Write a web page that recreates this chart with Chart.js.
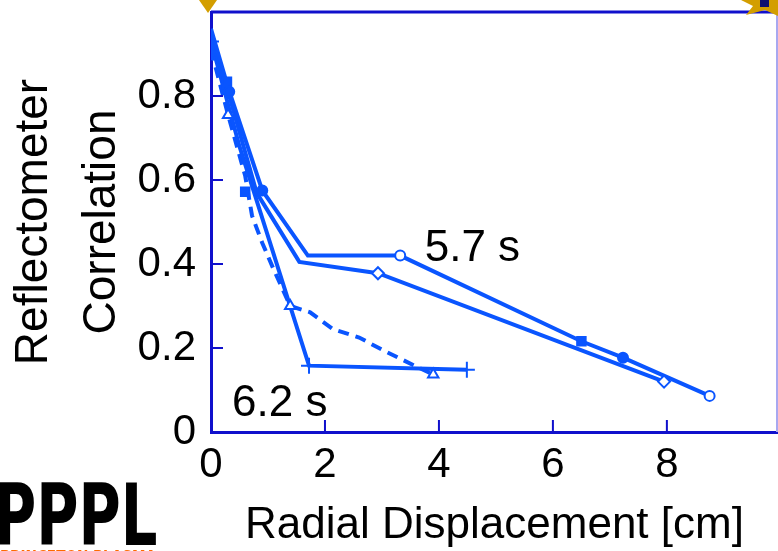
<!DOCTYPE html>
<html>
<head>
<meta charset="utf-8">
<script src="https://cdn.jsdelivr.net/npm/chart.js@4.4.1/dist/chart.umd.min.js"></script>
<style>
    html, body { margin: 0; padding: 0; background: #fff; }
    #wrap { width: 778px; height: 551px; }
</style>
</head>
<body>
<div id="wrap"><canvas id="corrChart" width="778" height="551"></canvas></div>
<script>
// ---- data ----
// 5.7 s curves
const upperX = [0, 0.3, 0.9, 1.7, 3.32, 6.5, 7.23, 8.75];
const upperY = [0.96, 0.82, 0.575, 0.42, 0.42, 0.216, 0.177, 0.086];
const lowerX = [0, 0.3, 0.8, 1.55, 2.93, 7.95];
const lowerY = [0.94, 0.81, 0.57, 0.405, 0.378, 0.12];
// 6.2 s curves
const plusX = [0, 0.5, 1.72, 4.49];
const plusY = [0.93, 0.68, 0.158, 0.148];
const dashX = [0, 0.3, 0.6, 0.72, 0.9, 1.09, 1.39, 1.74, 2.14, 2.6, 3.0, 3.6, 3.9];
const dashY = [0.91, 0.755, 0.61, 0.515, 0.45, 0.39, 0.30, 0.285, 0.245, 0.225, 0.196, 0.156, 0.137];

// marker points
const openCircX = [3.32, 8.75];
const openCircY = [0.42, 0.086];
const dotX = [0.32, 0.9, 7.23];
const dotY = [0.81, 0.575, 0.177];
const squareX = [0.28, 0.6, 6.5];
const squareY = [0.834, 0.572, 0.216];
const diamondX = [2.93, 7.95];
const diamondY = [0.378, 0.12];
const triX = [0.3, 1.39, 3.9];
const triY = [0.755, 0.30, 0.137];
const crossX = [0, 0, 1.72, 4.49];
const crossY = [0.93, 0.905, 0.158, 0.148];

// axes
const xTicks = [0, 2, 4, 6, 8];
const yTicks = [0, 0.2, 0.4, 0.6, 0.8];
const yTickLabels = ['0', '0.2', '0.4', '0.6', '0.8'];
const timeLabels = ['5.7 s', '6.2 s'];

const BLUE = '#0a55ff';
const AXIS = '#1010cc';
const FONT = "'Liberation Sans', Arial, sans-serif";

const pts = (xs, ys) => xs.map((x, i) => ({ x: x, y: ys[i] }));

const lineSet = (xs, ys, dash) => ({
    data: pts(xs, ys),
    showLine: true,
    borderColor: BLUE,
    borderWidth: 4,
    borderDash: dash || [],
    pointRadius: 0,
    fill: false
});

const markerSet = (xs, ys, style, radius, filled) => ({
    data: pts(xs, ys),
    showLine: false,
    pointStyle: style,
    pointRadius: radius,
    pointBorderWidth: 2,
    pointBorderColor: BLUE,
    pointBackgroundColor: filled ? BLUE : '#ffffff'
});

// no extra label padding around the plot box
const noPad = s => { s.paddingTop = 0; s.paddingBottom = 0; s.paddingLeft = 0; s.paddingRight = 0; };

// inward ticks, frame and slide decorations
const framePlugin = {
    id: 'frame',
    afterDraw(chart) {
        const { ctx, chartArea: a, scales: { x, y } } = chart;
        ctx.save();
        ctx.strokeStyle = AXIS;
        ctx.lineWidth = 2;
        ctx.beginPath();
        xTicks.forEach(v => {
            if (v === 0) return;
            const px = x.getPixelForValue(v);
            ctx.moveTo(px, a.bottom);
            ctx.lineTo(px, a.bottom - 12);
        });
        yTicks.forEach(v => {
            if (v === 0) return;
            const py = y.getPixelForValue(v);
            ctx.moveTo(a.left, py);
            ctx.lineTo(a.left + 12, py);
        });
        ctx.stroke();

        // top and right frame
        ctx.lineWidth = 3;
        ctx.beginPath();
        ctx.moveTo(a.left, a.top);
        ctx.lineTo(a.right, a.top);
        ctx.stroke();
        ctx.strokeStyle = '#a8a8f0';
        ctx.lineWidth = 2;
        ctx.beginPath();
        ctx.moveTo(a.right - 1, a.top);
        ctx.lineTo(a.right - 1, a.bottom);
        ctx.stroke();

        // time labels
        ctx.fillStyle = '#000';
        ctx.font = '44px ' + FONT;
        ctx.textAlign = 'left';
        ctx.textBaseline = 'alphabetic';
        ctx.fillText(timeLabels[0], x.getPixelForValue(3.75), y.getPixelForValue(0.407));
        ctx.fillText(timeLabels[1], x.getPixelForValue(0.37), y.getPixelForValue(0.038));

        // gold star tips at the top edge
        ctx.fillStyle = '#d39e00';
        ctx.beginPath();
        ctx.moveTo(199, 0); ctx.lineTo(217, 0); ctx.lineTo(208, 13);
        ctx.closePath();
        ctx.fill();
        ctx.beginPath();
        ctx.moveTo(741, 0); ctx.lineTo(778, 0); ctx.lineTo(778, 16);
        ctx.lineTo(765, 10); ctx.lineTo(746, 15); ctx.lineTo(753, 6);
        ctx.closePath();
        ctx.fill();
        ctx.fillStyle = '#101070';
        ctx.fillRect(760, 0, 9, 7);

        // PPPL logo
        ctx.fillStyle = '#000';
        ctx.save();
        ctx.translate(-6, 545);
        ctx.scale(0.67, 1);
        ctx.font = "bold 86px 'DejaVu Sans'";
        ctx.fillText('PPPL', 0, 0);
        ctx.restore();
        ctx.fillStyle = '#ff6a00';
        ctx.save();
        ctx.translate(0, 563);
        ctx.scale(0.8, 1);
        ctx.font = "bold 17px 'DejaVu Sans'";
        ctx.fillText('PRINCETON PLASMA', 0, 0);
        ctx.restore();
        ctx.restore();
    }
};

new Chart(document.getElementById('corrChart'), {
    type: 'scatter',
    data: {
        datasets: [
            markerSet(openCircX, openCircY, 'circle', 5, false),
            markerSet(dotX, dotY, 'circle', 5, true),
            markerSet(squareX, squareY, 'rect', 6, true),
            markerSet(diamondX, diamondY, 'rectRot', 6, false),
            markerSet(triX, triY, 'triangle', 6, false),
            markerSet(crossX, crossY, 'cross', 8, false),
            lineSet(upperX, upperY),
            lineSet(lowerX, lowerY),
            lineSet(plusX, plusY),
            lineSet(dashX, dashY, [11, 7])
        ]
    },
    options: {
        responsive: false,
        animation: false,
        devicePixelRatio: 1,
        layout: { autoPadding: false, padding: { top: 12, right: 0, left: 0, bottom: 0 } },
        plugins: { legend: { display: false }, tooltip: { enabled: false } },
        scales: {
            x: {
                type: 'linear',
                min: 0,
                max: 9.95,
                afterBuildTicks: s => { s.ticks = xTicks.map(v => ({ value: v })); },
                afterFit: s => { s.height = 119; noPad(s); },
                grid: { display: false, drawTicks: false },
                border: { color: AXIS, width: 3 },
                ticks: { color: '#000', padding: 8, font: { family: FONT, size: 42 } },
                title: {
                    display: true,
                    text: 'Radial Displacement [cm]',
                    color: '#000',
                    padding: 0,
                    font: { family: FONT, size: 44, lineHeight: 1.15 }
                }
            },
            y: {
                type: 'linear',
                min: 0,
                max: 1.0,
                afterBuildTicks: s => { s.ticks = yTicks.map(v => ({ value: v })); },
                afterFit: s => { s.width = 211; noPad(s); },
                grid: { display: false, drawTicks: false },
                border: { color: AXIS, width: 3 },
                ticks: {
                    color: '#000',
                    padding: 15,
                    font: { family: FONT, size: 42 },
                    callback: (v, i) => yTickLabels[i]
                },
                title: {
                    display: true,
                    text: ['Reflectometer', 'Correlation'],
                    color: '#000',
                    padding: 0,
                    font: { family: FONT, size: 46, lineHeight: 1.48 }
                }
            }
        }
    },
    plugins: [framePlugin]
});
</script>
</body>
</html>
